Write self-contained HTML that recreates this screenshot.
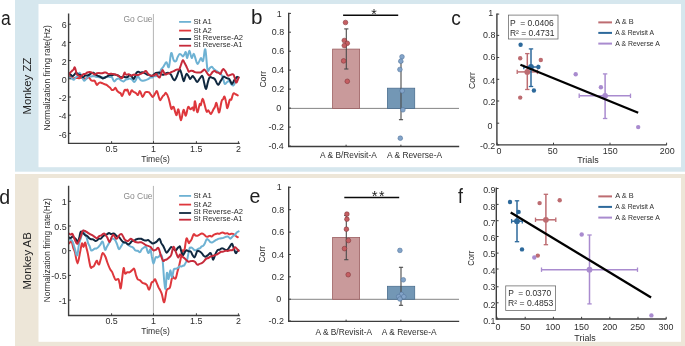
<!DOCTYPE html>
<html><head><meta charset="utf-8"><style>
html,body{margin:0;padding:0;background:#fff;overflow:hidden;}
svg{display:block;will-change:transform;}
text{font-family:"Liberation Sans",sans-serif;}
</style></head><body>
<svg width="685" height="346" viewBox="0 0 685 346">
<rect x="0" y="0" width="685" height="346" fill="#fff"/>
<rect x="15" y="0" width="670" height="171.7" fill="#d6e7ee"/>
<rect x="38.5" y="4" width="642.5" height="163.2" fill="#fff"/>
<rect x="15" y="174" width="670" height="172" fill="#ede6d8"/>
<rect x="38.5" y="178" width="642.5" height="163.8" fill="#fff"/>
<text x="1.1" y="24.6" font-size="20" textLength="9.72" lengthAdjust="spacingAndGlyphs" fill="#1e1e1e" >a</text>
<text x="251.06" y="24.4" font-size="20" textLength="11.49" lengthAdjust="spacingAndGlyphs" fill="#1e1e1e" >b</text>
<text x="451.24" y="24.7" font-size="20" textLength="9.54" lengthAdjust="spacingAndGlyphs" fill="#1e1e1e" >c</text>
<text x="-0.78" y="203.7" font-size="20" textLength="10.88" lengthAdjust="spacingAndGlyphs" fill="#1e1e1e" >d</text>
<text x="249.62" y="203.4" font-size="20" textLength="10.89" lengthAdjust="spacingAndGlyphs" fill="#1e1e1e" >e</text>
<text x="457.93" y="202.6" font-size="20" textLength="4.93" lengthAdjust="spacingAndGlyphs" fill="#1e1e1e" >f</text>
<text transform="translate(31.1,113.7) rotate(-90)" x="-0.91" y="0" font-size="11.4" textLength="56.97" lengthAdjust="spacingAndGlyphs" fill="#222">Monkey ZZ</text>
<text transform="translate(31.1,288.7) rotate(-90)" x="-0.91" y="0" font-size="11.4" textLength="57.31" lengthAdjust="spacingAndGlyphs" fill="#222">Monkey AB</text>
<line x1="153.4" y1="14" x2="153.4" y2="143.4" stroke="#b4b4b4" stroke-width="1"/>
<text x="123.38" y="22.4" font-size="8.6" textLength="29.22" lengthAdjust="spacingAndGlyphs" fill="#8a8a8a" >Go Cue</text>
<path d="M69.2,76.2 C69.5,76.4 70.3,77.1 70.9,77.5 C71.5,77.9 71.9,78.4 72.6,78.5 C73.3,78.6 74.1,78.2 74.9,78.1 C75.7,78.0 76.4,77.9 77.2,77.9 C78.0,77.9 78.4,78.3 79.1,78.2 C79.8,78.2 80.4,77.7 81.1,77.8 C81.8,77.8 82.3,78.3 83.0,78.5 C83.7,78.7 84.2,78.7 84.9,78.7 C85.6,78.6 86.2,78.5 86.9,78.3 C87.6,78.0 88.0,77.0 88.8,77.3 C89.6,77.6 90.4,79.6 91.1,80.2 C91.8,80.8 92.2,80.7 92.8,80.8 C93.5,80.9 93.9,80.1 94.6,80.8 C95.3,81.5 96.2,84.5 96.9,84.9 C97.6,85.3 98.0,83.5 98.7,83.1 C99.3,82.7 99.7,82.4 100.4,82.5 C101.1,82.6 101.9,83.1 102.7,83.4 C103.5,83.8 104.3,84.0 105.0,84.3 C105.7,84.6 106.1,84.7 106.8,85.1 C107.4,85.6 107.9,86.1 108.5,86.6 C109.1,87.1 109.6,87.2 110.2,87.8 C110.8,88.5 111.3,89.7 111.9,90.0 C112.5,90.3 113.0,90.1 113.7,89.7 C114.3,89.3 114.8,87.5 115.4,87.7 C116.0,87.9 116.5,90.1 117.2,90.9 C117.8,91.8 118.3,92.0 118.9,92.4 C119.5,92.8 120.0,92.7 120.6,93.3 C121.2,93.9 121.6,96.4 122.3,95.8 C123.0,95.2 123.9,90.9 124.6,90.0 C125.3,89.1 125.6,90.6 126.1,90.5 C126.6,90.5 127.0,89.0 127.6,89.8 C128.2,90.6 128.9,94.9 129.6,95.0 C130.3,95.1 130.9,91.0 131.5,90.4 C132.1,89.8 132.6,91.2 133.2,91.6 C133.7,91.9 134.2,92.1 134.8,92.4 C135.4,92.7 135.8,93.0 136.4,93.5 C137.0,94.0 137.4,95.4 138.0,95.0 C138.6,94.6 139.2,90.8 140.0,91.1 C140.8,91.4 141.7,96.7 142.6,96.9 C143.5,97.1 144.4,93.3 145.2,92.4 C146.0,91.5 146.4,92.0 147.1,92.0 C147.9,92.0 148.4,91.9 149.1,92.4 C149.8,92.9 150.3,94.2 151.1,95.0 C151.8,95.8 152.3,97.1 153.0,96.9 C153.7,96.7 154.2,95.0 154.9,93.9 C155.7,92.9 156.3,90.7 156.9,91.1 C157.5,91.5 157.9,94.3 158.5,96.0 C159.1,97.6 159.3,100.1 160.1,100.2 C160.9,100.3 161.9,97.2 162.7,96.3 C163.5,95.4 163.8,95.5 164.3,94.9 C164.9,94.3 165.2,92.4 166.0,93.0 C166.8,93.6 167.7,95.4 168.6,98.2 C169.5,101.0 170.5,107.0 171.2,108.6 C171.9,110.2 172.0,107.5 172.5,107.3 C173.0,107.1 173.1,105.9 173.8,107.3 C174.5,108.7 175.6,114.7 176.4,115.1 C177.2,115.5 177.6,108.4 178.4,109.3 C179.2,110.2 180.1,120.2 181.0,120.3 C181.9,120.4 182.6,110.7 183.5,109.9 C184.4,109.1 185.0,116.1 185.8,115.6 C186.6,115.1 187.3,108.1 188.1,107.0 C188.9,105.9 189.6,109.2 190.4,109.3 C191.2,109.4 192.1,107.3 192.7,107.5 C193.3,107.7 193.5,111.5 193.9,110.4 C194.3,109.3 194.4,100.9 195.0,101.2 C195.6,101.5 196.5,111.7 197.3,112.2 C198.1,112.7 199.1,105.4 199.7,104.1 C200.3,102.8 200.3,106.1 200.8,105.2 C201.3,104.3 201.9,99.2 202.5,98.9 C203.1,98.6 203.6,101.2 204.3,103.5 C205.0,105.8 205.9,110.4 206.6,111.6 C207.3,112.8 207.6,110.0 208.3,110.4 C209.0,110.8 209.9,113.6 210.6,113.9 C211.3,114.2 211.5,112.9 212.1,112.1 C212.6,111.3 213.0,110.2 213.5,109.3 C214.0,108.4 214.4,108.1 214.9,107.0 C215.5,105.8 215.9,102.6 216.4,102.9 C216.9,103.2 217.3,106.7 217.9,108.4 C218.4,110.1 218.6,113.5 219.3,112.2 C220.0,110.9 220.9,103.6 221.6,101.2 C222.3,98.8 222.5,99.9 223.1,99.1 C223.6,98.3 224.0,96.2 224.5,96.6 C225.0,97.0 225.4,99.5 225.9,101.5 C226.5,103.6 226.7,108.4 227.4,108.1 C228.1,107.8 229.0,101.5 229.7,100.0 C230.4,98.5 230.8,100.6 231.4,99.5 C232.0,98.4 232.5,94.7 233.2,93.7 C233.9,92.7 234.7,93.9 235.5,94.2 C236.3,94.5 237.4,95.2 237.8,95.4" fill="none" stroke="#de373c" stroke-width="2" stroke-linejoin="round" stroke-linecap="round"/>
<path d="M69.0,77.3 C69.4,77.5 70.5,78.0 71.4,78.4 C72.3,78.8 73.0,79.9 73.8,79.7 C74.6,79.5 75.0,78.2 75.7,77.5 C76.4,76.8 77.0,76.7 77.7,75.8 C78.4,74.9 78.8,72.5 79.6,72.7 C80.4,72.9 81.1,75.2 81.9,76.7 C82.7,78.1 83.4,80.5 84.2,80.8 C85.0,81.1 85.7,79.3 86.5,78.5 C87.3,77.7 88.0,76.6 88.8,76.2 C89.6,75.8 90.3,76.6 91.1,76.6 C91.9,76.5 92.6,76.0 93.4,76.0 C94.2,76.1 94.9,76.6 95.7,76.8 C96.5,77.0 97.2,76.9 98.0,77.0 C98.9,77.1 99.5,77.3 100.4,77.4 C101.2,77.4 101.9,77.2 102.7,77.3 C103.5,77.4 104.2,78.0 105.0,77.8 C105.8,77.7 106.5,76.7 107.3,76.6 C108.1,76.4 108.8,76.8 109.6,76.9 C110.4,77.1 111.1,76.5 111.9,77.3 C112.7,78.1 113.4,81.1 114.2,81.4 C115.0,81.7 115.7,79.7 116.6,79.2 C117.4,78.7 118.1,78.3 118.9,78.5 C119.7,78.7 120.4,80.0 121.2,80.5 C122.0,81.0 122.6,81.6 123.5,81.4 C124.4,81.2 125.2,79.9 126.0,79.5 C126.8,79.1 127.2,79.5 127.8,79.3 C128.4,79.2 128.9,78.5 129.6,78.5 C130.3,78.5 131.1,78.8 131.9,79.4 C132.7,80.1 133.5,81.9 134.2,82.0 C134.9,82.1 135.3,81.0 135.9,80.0 C136.6,78.9 137.0,76.3 137.7,76.2 C138.4,76.1 139.2,78.5 140.0,79.3 C140.8,80.2 141.5,80.6 142.3,80.8 C143.1,81.0 143.5,80.7 144.2,80.5 C144.9,80.3 145.5,80.1 146.2,79.9 C146.9,79.6 147.3,79.5 148.1,79.1 C148.9,78.7 149.6,77.9 150.4,77.6 C151.2,77.3 152.0,77.7 152.7,77.4 C153.4,77.1 153.8,76.1 154.4,75.9 C155.1,75.7 155.6,76.5 156.2,76.2 C156.8,75.9 157.3,75.1 157.9,74.5 C158.6,73.9 159.1,73.7 159.7,72.7 C160.3,71.7 160.8,70.1 161.4,69.1 C162.1,68.0 162.6,67.9 163.2,67.0 C163.8,66.1 164.3,64.9 164.9,64.1 C165.5,63.2 165.9,61.8 166.6,62.3 C167.3,62.8 168.1,68.7 168.9,67.0 C169.7,65.3 170.4,54.4 171.2,53.1 C172.0,51.8 172.8,58.5 173.6,60.0 C174.4,61.5 175.2,61.7 175.9,61.2 C176.6,60.7 177.0,58.5 177.6,57.2 C178.2,56.0 178.7,54.7 179.3,54.2 C179.9,53.7 180.5,54.1 181.1,54.6 C181.7,55.0 182.3,56.6 182.9,56.6 C183.5,56.6 183.8,55.1 184.4,54.3 C184.9,53.5 185.3,51.5 185.8,52.2 C186.3,52.9 186.6,58.3 187.2,58.0 C187.8,57.7 188.6,50.8 189.4,50.8 C190.2,50.8 190.8,57.5 191.6,58.0 C192.4,58.5 193.0,53.6 193.7,53.7 C194.4,53.8 194.9,56.8 195.5,58.6 C196.1,60.5 196.6,63.3 197.3,63.8 C198.0,64.3 198.5,62.6 199.2,61.5 C199.8,60.5 200.3,58.1 201.0,58.0 C201.7,57.9 202.3,62.5 203.1,60.9 C203.9,59.3 204.5,47.7 205.3,49.3 C206.1,50.9 206.7,66.2 207.5,69.6 C208.3,73.0 208.9,68.7 209.7,68.2 C210.4,67.7 211.1,66.6 211.8,66.7 C212.5,66.8 213.0,68.1 213.6,68.8 C214.2,69.4 214.8,69.8 215.4,70.3 C216.0,70.8 216.6,71.0 217.2,71.4 C217.8,71.8 218.4,72.0 219.0,72.5 C219.6,73.0 219.9,73.7 220.4,74.2 C221.0,74.8 221.4,74.4 221.9,75.4 C222.4,76.4 222.8,78.1 223.4,79.6 C223.9,81.2 224.1,83.5 224.8,84.0 C225.5,84.5 226.2,82.7 227.0,82.2 C227.8,81.6 228.4,80.7 229.2,81.1 C230.0,81.5 230.6,83.4 231.3,84.2 C232.1,85.0 232.8,85.9 233.5,85.5 C234.2,85.1 234.7,83.6 235.3,82.0 C235.9,80.5 236.8,77.7 237.1,76.8" fill="none" stroke="#6eb2d3" stroke-width="2" stroke-linejoin="round" stroke-linecap="round"/>
<path d="M69.0,73.3 C69.3,73.6 70.2,74.2 70.8,74.7 C71.4,75.2 72.0,76.2 72.6,76.2 C73.2,76.2 73.7,75.4 74.3,74.7 C75.0,74.1 75.4,72.7 76.1,72.7 C76.8,72.7 77.6,74.1 78.4,74.5 C79.2,75.0 79.9,74.6 80.7,75.1 C81.5,75.6 82.2,77.2 83.0,77.3 C83.8,77.4 84.2,76.0 84.9,75.7 C85.6,75.3 86.2,75.7 86.9,75.5 C87.6,75.4 88.0,75.4 88.8,75.0 C89.6,74.6 90.3,73.9 91.1,73.4 C91.9,73.0 92.6,72.5 93.4,72.7 C94.2,72.9 94.9,74.1 95.7,74.6 C96.6,75.2 97.2,75.4 98.1,75.8 C98.9,76.2 99.6,76.3 100.4,76.8 C101.2,77.3 101.9,78.4 102.7,78.5 C103.5,78.6 104.2,77.9 105.0,77.5 C105.8,77.1 106.5,76.7 107.3,76.3 C108.1,75.8 108.8,75.2 109.6,75.0 C110.4,74.8 111.1,75.4 111.9,75.3 C112.8,75.2 113.4,74.4 114.3,74.4 C115.1,74.3 115.8,74.7 116.6,75.0 C117.4,75.3 118.1,75.6 118.9,76.0 C119.7,76.5 120.4,77.2 121.2,77.3 C122.0,77.4 122.7,76.7 123.5,76.7 C124.3,76.7 125.0,77.3 125.8,77.3 C126.6,77.3 127.0,77.3 127.7,76.9 C128.4,76.5 128.9,75.2 129.6,75.1 C130.3,75.0 130.9,75.6 131.6,76.3 C132.4,77.0 133.1,79.1 133.7,79.1 C134.3,79.1 134.6,77.6 135.1,76.5 C135.7,75.3 136.0,73.5 136.6,72.7 C137.2,71.9 137.8,71.8 138.5,71.8 C139.2,71.8 139.7,72.6 140.4,72.7 C141.1,72.8 141.5,72.1 142.3,72.2 C143.1,72.3 143.8,72.6 144.7,73.1 C145.5,73.5 146.2,74.2 147.0,74.5 C147.8,74.8 148.2,74.5 148.9,74.7 C149.6,74.9 150.1,75.7 150.8,75.8 C151.5,76.0 151.9,76.1 152.7,75.6 C153.5,75.1 154.2,73.8 155.1,73.3 C155.9,72.8 156.6,72.8 157.4,72.7 C158.2,72.6 158.9,72.5 159.7,72.8 C160.5,73.1 161.2,74.2 162.0,74.5 C162.8,74.8 163.2,74.9 163.9,74.6 C164.6,74.4 165.2,73.7 165.9,73.3 C166.6,73.0 167.1,72.7 167.8,72.7 C168.5,72.7 168.9,72.7 169.5,73.2 C170.1,73.6 170.6,74.1 171.2,75.1 C171.8,76.1 172.3,77.6 172.9,78.6 C173.6,79.5 174.1,80.5 174.7,80.3 C175.3,80.1 175.8,78.7 176.4,77.3 C177.1,75.9 177.6,74.1 178.2,72.7 C178.8,71.3 179.4,69.2 180.0,69.6 C180.6,70.0 181.2,72.6 181.8,74.7 C182.4,76.7 183.0,80.6 183.6,81.1 C184.2,81.6 184.5,78.7 185.1,77.4 C185.6,76.1 185.9,74.2 186.5,73.9 C187.1,73.6 187.7,74.9 188.3,75.8 C188.9,76.7 189.5,78.7 190.1,79.0 C190.7,79.3 191.0,77.7 191.6,77.2 C192.1,76.7 192.4,75.7 193.0,76.1 C193.6,76.5 194.4,78.2 195.2,79.2 C195.9,80.3 196.5,82.0 197.3,81.9 C198.1,81.8 198.9,79.4 199.9,78.4 C200.8,77.4 201.6,75.3 202.4,76.1 C203.2,76.9 203.6,80.6 204.2,83.0 C204.8,85.3 205.4,89.2 206.0,89.1 C206.6,89.0 207.2,84.6 207.8,82.5 C208.4,80.4 208.8,78.4 209.6,77.5 C210.4,76.6 211.2,77.4 212.1,77.7 C213.1,77.9 213.9,78.1 214.7,79.0 C215.5,79.9 215.9,81.4 216.5,82.5 C217.1,83.5 217.5,85.1 218.3,84.8 C219.1,84.5 219.9,82.1 220.9,80.6 C221.8,79.2 222.6,77.4 223.4,76.8 C224.2,76.2 224.6,77.1 225.3,77.4 C226.0,77.7 226.6,78.1 227.3,78.4 C228.0,78.7 228.6,78.5 229.2,79.0 C229.8,79.5 230.1,80.6 230.6,81.5 C231.1,82.4 231.4,84.1 232.0,84.0 C232.6,83.9 233.2,82.0 233.8,80.9 C234.5,79.9 235.1,79.0 235.7,78.3 C236.3,77.6 236.6,77.2 237.1,77.1 C237.7,76.9 238.3,77.4 238.6,77.5" fill="none" stroke="#10283f" stroke-width="2" stroke-linejoin="round" stroke-linecap="round"/>
<path d="M69.0,74.5 C69.3,74.1 70.0,72.9 70.5,72.3 C71.0,71.7 71.5,71.5 72.0,71.0 C72.5,70.5 72.9,70.2 73.5,69.6 C74.0,69.0 74.3,66.7 74.9,67.5 C75.5,68.3 76.1,72.5 76.7,73.9 C77.3,75.3 77.6,75.0 78.2,75.4 C78.7,75.8 79.0,76.1 79.6,76.2 C80.2,76.3 80.8,76.4 81.5,76.1 C82.2,75.7 82.7,74.5 83.4,74.1 C84.1,73.7 84.6,74.2 85.3,73.9 C86.0,73.6 86.6,72.8 87.3,72.5 C88.1,72.2 88.6,72.1 89.4,72.1 C90.2,72.1 91.1,72.2 92.0,72.7 C92.9,73.1 93.7,74.4 94.6,74.5 C95.5,74.6 96.0,73.5 96.8,73.3 C97.6,73.0 98.2,73.0 99.0,73.0 C99.8,73.0 100.5,73.3 101.4,73.3 C102.3,73.2 103.0,72.9 103.8,72.7 C104.6,72.5 105.0,72.3 105.7,72.4 C106.4,72.6 107.0,73.3 107.7,73.6 C108.4,73.8 108.8,73.9 109.6,73.9 C110.4,73.9 111.1,73.7 111.9,73.8 C112.8,73.8 113.4,74.0 114.3,74.3 C115.1,74.5 115.8,74.7 116.6,75.0 C117.4,75.3 117.8,75.4 118.5,75.8 C119.2,76.3 119.7,77.2 120.4,77.5 C121.1,77.9 121.5,78.8 122.3,77.9 C123.1,77.0 124.1,73.4 124.6,72.7 C125.1,72.0 124.6,73.5 125.0,73.9 C125.4,74.3 126.2,74.6 126.9,74.7 C127.6,74.7 128.2,74.0 128.9,74.2 C129.6,74.3 130.1,75.4 130.8,75.6 C131.5,75.8 132.0,75.2 132.7,75.0 C133.4,74.9 134.0,74.6 134.7,74.6 C135.4,74.6 135.8,75.1 136.6,75.1 C137.4,75.1 138.1,75.0 138.9,74.7 C139.7,74.5 140.4,74.0 141.2,73.6 C142.0,73.2 142.7,73.0 143.5,72.6 C144.3,72.1 145.0,70.8 145.8,71.0 C146.6,71.2 147.3,73.1 148.1,73.9 C148.9,74.7 149.6,75.3 150.4,75.6 C151.2,75.9 151.6,75.5 152.3,75.5 C153.0,75.4 153.6,75.6 154.3,75.3 C155.0,75.0 155.5,73.7 156.2,73.9 C156.9,74.1 157.3,75.5 157.9,76.2 C158.6,76.8 159.1,77.9 159.7,77.4 C160.3,76.9 160.6,74.6 161.1,73.2 C161.7,71.9 162.1,70.0 162.6,69.9 C163.1,69.8 163.5,72.0 164.1,72.8 C164.6,73.7 164.9,74.3 165.5,74.5 C166.1,74.7 166.7,73.9 167.4,73.7 C168.1,73.5 168.6,73.7 169.3,73.4 C170.0,73.2 170.4,72.6 171.2,72.2 C172.0,71.8 172.7,71.6 173.6,71.2 C174.4,70.8 175.2,70.2 175.9,69.9 C176.6,69.6 177.0,69.6 177.6,69.5 C178.2,69.4 178.7,70.2 179.3,69.3 C179.9,68.4 180.5,66.1 181.1,64.5 C181.7,62.9 182.3,60.5 182.9,60.2 C183.5,59.9 183.8,61.7 184.4,62.6 C184.9,63.5 185.3,64.2 185.8,65.2 C186.3,66.2 186.7,66.9 187.2,68.1 C187.8,69.3 188.1,71.2 188.7,71.7 C189.3,72.2 190.1,70.8 190.8,70.7 C191.6,70.5 192.3,70.7 193.0,71.0 C193.7,71.3 194.2,71.8 194.9,72.1 C195.6,72.4 196.2,72.5 196.9,72.5 C197.6,72.6 198.1,72.5 198.8,72.5 C199.5,72.5 200.0,72.7 200.7,72.4 C201.4,72.1 202.0,71.4 202.7,70.9 C203.4,70.4 203.9,69.3 204.6,69.6 C205.3,69.9 206.0,71.6 206.8,72.6 C207.5,73.6 208.2,75.1 208.9,75.4 C209.6,75.7 210.1,75.0 210.8,74.4 C211.5,73.7 212.1,72.4 212.8,71.8 C213.5,71.2 214.0,70.9 214.7,71.0 C215.4,71.1 215.9,72.0 216.6,72.3 C217.3,72.6 217.9,72.5 218.6,72.8 C219.3,73.1 219.9,74.3 220.5,73.9 C221.1,73.5 221.4,71.7 221.9,70.8 C222.5,69.9 222.8,68.8 223.4,68.9 C224.0,69.0 224.8,70.4 225.6,71.6 C226.3,72.8 227.0,74.8 227.7,75.4 C228.4,76.0 228.9,75.4 229.6,75.2 C230.3,75.0 230.9,74.5 231.6,74.4 C232.3,74.3 232.9,73.9 233.5,74.6 C234.1,75.3 234.4,77.1 234.9,78.5 C235.5,80.0 235.7,82.8 236.4,82.6 C237.1,82.4 238.2,78.4 238.6,77.5" fill="none" stroke="#c62a3a" stroke-width="2" stroke-linejoin="round" stroke-linecap="round"/>
<path d="M68.6,13.6 V143.4 H239.8" fill="none" stroke="#3d3d3d" stroke-width="1.4"/>
<line x1="68.6" y1="24.2" x2="71.0" y2="24.2" stroke="#3d3d3d" stroke-width="1"/>
<text x="61.72" y="28.3" font-size="8.9" textLength="4.95" lengthAdjust="spacingAndGlyphs" fill="#2e2e2e" >6</text>
<line x1="68.6" y1="42.4" x2="71.0" y2="42.4" stroke="#3d3d3d" stroke-width="1"/>
<text x="61.63" y="46.5" font-size="8.9" textLength="4.95" lengthAdjust="spacingAndGlyphs" fill="#2e2e2e" >4</text>
<line x1="68.6" y1="60.6" x2="71.0" y2="60.6" stroke="#3d3d3d" stroke-width="1"/>
<text x="61.81" y="64.7" font-size="8.9" textLength="4.95" lengthAdjust="spacingAndGlyphs" fill="#2e2e2e" >2</text>
<line x1="68.6" y1="78.8" x2="71.0" y2="78.8" stroke="#3d3d3d" stroke-width="1"/>
<text x="61.67" y="82.9" font-size="8.9" textLength="4.95" lengthAdjust="spacingAndGlyphs" fill="#2e2e2e" >0</text>
<line x1="68.6" y1="97.0" x2="71.0" y2="97.0" stroke="#3d3d3d" stroke-width="1"/>
<text x="58.82" y="101.1" font-size="8.9" textLength="7.91" lengthAdjust="spacingAndGlyphs" fill="#2e2e2e" >-2</text>
<line x1="68.6" y1="115.2" x2="71.0" y2="115.2" stroke="#3d3d3d" stroke-width="1"/>
<text x="58.65" y="119.3" font-size="8.9" textLength="7.91" lengthAdjust="spacingAndGlyphs" fill="#2e2e2e" >-4</text>
<line x1="68.6" y1="133.4" x2="71.0" y2="133.4" stroke="#3d3d3d" stroke-width="1"/>
<text x="58.73" y="137.5" font-size="8.9" textLength="7.91" lengthAdjust="spacingAndGlyphs" fill="#2e2e2e" >-6</text>
<line x1="111.6" y1="143.4" x2="111.6" y2="141.20000000000002" stroke="#3d3d3d" stroke-width="1"/>
<text x="105.41" y="152.2" font-size="8.9" textLength="12.37" lengthAdjust="spacingAndGlyphs" fill="#2e2e2e" >0.5</text>
<line x1="153.5" y1="143.4" x2="153.5" y2="141.20000000000002" stroke="#3d3d3d" stroke-width="1"/>
<text x="150.9" y="152.2" font-size="8.9" textLength="4.95" lengthAdjust="spacingAndGlyphs" fill="#2e2e2e" >1</text>
<line x1="196.4" y1="143.4" x2="196.4" y2="141.20000000000002" stroke="#3d3d3d" stroke-width="1"/>
<text x="190.06" y="152.2" font-size="8.9" textLength="12.37" lengthAdjust="spacingAndGlyphs" fill="#2e2e2e" >1.5</text>
<line x1="238.4" y1="143.4" x2="238.4" y2="141.20000000000002" stroke="#3d3d3d" stroke-width="1"/>
<text x="235.93" y="152.2" font-size="8.9" textLength="4.95" lengthAdjust="spacingAndGlyphs" fill="#2e2e2e" >2</text>
<text x="141.23" y="162.3" font-size="8.6" textLength="28.7" lengthAdjust="spacingAndGlyphs" fill="#2e2e2e" >Time(s)</text>
<text transform="translate(50.3,129.9) rotate(-90)" x="-0.68" y="0" font-size="8.4" textLength="105.41" lengthAdjust="spacingAndGlyphs" fill="#2e2e2e">Normalization firing rate(Hz)</text>
<line x1="179.1" y1="21.9" x2="191.1" y2="21.9" stroke="#6eb2d3" stroke-width="1.8"/>
<text x="193.56" y="23.9" font-size="7.0" textLength="18.19" lengthAdjust="spacingAndGlyphs" fill="#2e2e2e" >St A1</text>
<line x1="179.1" y1="30.6" x2="191.1" y2="30.6" stroke="#de373c" stroke-width="1.8"/>
<text x="193.56" y="32.6" font-size="7.0" textLength="18.23" lengthAdjust="spacingAndGlyphs" fill="#2e2e2e" >St A2</text>
<line x1="179.1" y1="39.0" x2="191.1" y2="39.0" stroke="#10283f" stroke-width="1.8"/>
<text x="193.56" y="40" font-size="7.0" textLength="49.44" lengthAdjust="spacingAndGlyphs" fill="#2e2e2e" >St Reverse-A2</text>
<line x1="179.1" y1="45.7" x2="191.1" y2="45.7" stroke="#c62a3a" stroke-width="1.8"/>
<text x="193.56" y="47.4" font-size="7.0" textLength="48.8" lengthAdjust="spacingAndGlyphs" fill="#2e2e2e" >St Reverse-A1</text>
<line x1="288.7" y1="108.4" x2="459" y2="108.4" stroke="#777" stroke-width="0.9"/>
<rect x="332.6" y="49.1" width="27" height="59.300000000000004" fill="#c99a9b" stroke="#9c6062" stroke-width="0.8"/>
<rect x="387.4" y="88.2" width="27.3" height="20.200000000000003" fill="#7397b5" stroke="#4c6f8f" stroke-width="0.8"/>
<line x1="346.3" y1="28.9" x2="346.3" y2="69.0" stroke="#4a4a4a" stroke-width="1.1"/>
<line x1="344.2" y1="28.9" x2="348.40000000000003" y2="28.9" stroke="#4a4a4a" stroke-width="1.1"/>
<line x1="344.2" y1="69.0" x2="348.40000000000003" y2="69.0" stroke="#4a4a4a" stroke-width="1.1"/>
<line x1="401.0" y1="62.0" x2="401.0" y2="119.7" stroke="#4a4a4a" stroke-width="1.1"/>
<line x1="398.9" y1="62.0" x2="403.1" y2="62.0" stroke="#4a4a4a" stroke-width="1.1"/>
<line x1="398.9" y1="119.7" x2="403.1" y2="119.7" stroke="#4a4a4a" stroke-width="1.1"/>
<circle cx="345.5" cy="22.5" r="2.35" fill="#c45e62" stroke="#7e3437" stroke-width="0.55"/>
<circle cx="344.3" cy="40.5" r="2.35" fill="#c45e62" stroke="#7e3437" stroke-width="0.55"/>
<circle cx="347.3" cy="43.3" r="2.35" fill="#c45e62" stroke="#7e3437" stroke-width="0.55"/>
<circle cx="344.3" cy="45.6" r="2.35" fill="#c45e62" stroke="#7e3437" stroke-width="0.55"/>
<circle cx="343.6" cy="60.9" r="2.35" fill="#c45e62" stroke="#7e3437" stroke-width="0.55"/>
<circle cx="347.3" cy="81.3" r="2.35" fill="#c45e62" stroke="#7e3437" stroke-width="0.55"/>
<circle cx="402" cy="56.8" r="2.35" fill="#83a4c9" stroke="#52739a" stroke-width="0.55"/>
<circle cx="400.8" cy="61.2" r="2.35" fill="#83a4c9" stroke="#52739a" stroke-width="0.55"/>
<circle cx="399.9" cy="69.5" r="2.35" fill="#83a4c9" stroke="#52739a" stroke-width="0.55"/>
<circle cx="402.2" cy="90.8" r="2.35" fill="#83a4c9" stroke="#52739a" stroke-width="0.55"/>
<circle cx="402.9" cy="109.8" r="2.35" fill="#83a4c9" stroke="#52739a" stroke-width="0.55"/>
<circle cx="400.3" cy="138.2" r="2.35" fill="#83a4c9" stroke="#52739a" stroke-width="0.55"/>
<path d="M288.7,12.7 V146.5 H459.2" fill="none" stroke="#3d3d3d" stroke-width="1.4"/>
<line x1="288.7" y1="13.4" x2="291" y2="13.4" stroke="#3d3d3d" stroke-width="1"/>
<text x="276.66" y="16.5" font-size="8.9" textLength="4.95" lengthAdjust="spacingAndGlyphs" fill="#2e2e2e" >1</text>
<line x1="288.7" y1="32.2" x2="291" y2="32.2" stroke="#3d3d3d" stroke-width="1"/>
<text x="271.79" y="35.3" font-size="8.9" textLength="12.37" lengthAdjust="spacingAndGlyphs" fill="#2e2e2e" >0.8</text>
<line x1="288.7" y1="51.2" x2="291" y2="51.2" stroke="#3d3d3d" stroke-width="1"/>
<text x="271.79" y="54.3" font-size="8.9" textLength="12.37" lengthAdjust="spacingAndGlyphs" fill="#2e2e2e" >0.6</text>
<line x1="288.7" y1="70.1" x2="291" y2="70.1" stroke="#3d3d3d" stroke-width="1"/>
<text x="271.7" y="73.2" font-size="8.9" textLength="12.37" lengthAdjust="spacingAndGlyphs" fill="#2e2e2e" >0.4</text>
<line x1="288.7" y1="89.1" x2="291" y2="89.1" stroke="#3d3d3d" stroke-width="1"/>
<text x="271.87" y="92.2" font-size="8.9" textLength="12.37" lengthAdjust="spacingAndGlyphs" fill="#2e2e2e" >0.2</text>
<line x1="288.7" y1="108.1" x2="291" y2="108.1" stroke="#3d3d3d" stroke-width="1"/>
<text x="276.37" y="111.2" font-size="8.9" textLength="4.95" lengthAdjust="spacingAndGlyphs" fill="#2e2e2e" >0</text>
<line x1="288.7" y1="127.1" x2="291" y2="127.1" stroke="#3d3d3d" stroke-width="1"/>
<text x="268.64" y="130.2" font-size="8.9" textLength="15.34" lengthAdjust="spacingAndGlyphs" fill="#2e2e2e" >-0.2</text>
<line x1="288.7" y1="146.1" x2="291" y2="146.1" stroke="#3d3d3d" stroke-width="1"/>
<text x="268.46" y="149.2" font-size="8.9" textLength="15.34" lengthAdjust="spacingAndGlyphs" fill="#2e2e2e" >-0.4</text>
<line x1="346.1" y1="146.5" x2="346.1" y2="144.7" stroke="#3d3d3d" stroke-width="1"/>
<line x1="400.9" y1="146.5" x2="400.9" y2="144.7" stroke="#3d3d3d" stroke-width="1"/>
<text x="320.1" y="157.8" font-size="8.8" textLength="56.7" lengthAdjust="spacingAndGlyphs" fill="#2e2e2e" >A &amp; B/Revisit-A</text>
<text x="387" y="157.8" font-size="8.8" textLength="55.03" lengthAdjust="spacingAndGlyphs" fill="#2e2e2e" >A &amp; Reverse-A</text>
<text transform="translate(265.6,87.2) rotate(-90)" x="-0.43" y="0" font-size="8.4" textLength="16.8" lengthAdjust="spacingAndGlyphs" fill="#2e2e2e">Corr</text>
<line x1="343.1" y1="15.2" x2="398.2" y2="15.2" stroke="#0a0a0a" stroke-width="1.6"/>
<text x="371.29" y="18.9" font-size="14" textLength="5.51" lengthAdjust="spacingAndGlyphs" fill="#1a1a1a" >*</text>
<path d="M496.9,13.4 V144.9 H666.8" fill="none" stroke="#3d3d3d" stroke-width="1.4"/>
<line x1="496.9" y1="14.1" x2="499.2" y2="14.1" stroke="#3d3d3d" stroke-width="1"/>
<text x="488.26" y="15.8" font-size="8.9" textLength="4.95" lengthAdjust="spacingAndGlyphs" fill="#2e2e2e" >1</text>
<line x1="496.9" y1="35.4" x2="499.2" y2="35.4" stroke="#3d3d3d" stroke-width="1"/>
<text x="482.99" y="38.4" font-size="8.9" textLength="12.37" lengthAdjust="spacingAndGlyphs" fill="#2e2e2e" >0.8</text>
<line x1="496.9" y1="57.5" x2="499.2" y2="57.5" stroke="#3d3d3d" stroke-width="1"/>
<text x="482.99" y="60.1" font-size="8.9" textLength="12.37" lengthAdjust="spacingAndGlyphs" fill="#2e2e2e" >0.6</text>
<line x1="496.9" y1="79.3" x2="499.2" y2="79.3" stroke="#3d3d3d" stroke-width="1"/>
<text x="482.9" y="83.6" font-size="8.9" textLength="12.37" lengthAdjust="spacingAndGlyphs" fill="#2e2e2e" >0.4</text>
<line x1="496.9" y1="101.0" x2="499.2" y2="101.0" stroke="#3d3d3d" stroke-width="1"/>
<text x="483.07" y="105.3" font-size="8.9" textLength="12.37" lengthAdjust="spacingAndGlyphs" fill="#2e2e2e" >0.2</text>
<line x1="496.9" y1="123.2" x2="499.2" y2="123.2" stroke="#3d3d3d" stroke-width="1"/>
<text x="487.57" y="128.5" font-size="8.9" textLength="4.95" lengthAdjust="spacingAndGlyphs" fill="#2e2e2e" >0</text>
<line x1="496.9" y1="144.9" x2="499.2" y2="144.9" stroke="#3d3d3d" stroke-width="1"/>
<text x="479.94" y="148.8" font-size="8.9" textLength="15.34" lengthAdjust="spacingAndGlyphs" fill="#2e2e2e" >-0.2</text>
<line x1="497.1" y1="144.9" x2="497.1" y2="142.70000000000002" stroke="#3d3d3d" stroke-width="1"/>
<text x="496.51" y="153.8" font-size="8.9" textLength="4.95" lengthAdjust="spacingAndGlyphs" fill="#2e2e2e" >0</text>
<line x1="553.5" y1="144.9" x2="553.5" y2="142.70000000000002" stroke="#3d3d3d" stroke-width="1"/>
<text x="547.74" y="153.8" font-size="8.9" textLength="9.9" lengthAdjust="spacingAndGlyphs" fill="#2e2e2e" >50</text>
<line x1="610.0" y1="144.9" x2="610.0" y2="142.70000000000002" stroke="#3d3d3d" stroke-width="1"/>
<text x="602.81" y="153.8" font-size="8.9" textLength="14.85" lengthAdjust="spacingAndGlyphs" fill="#2e2e2e" >150</text>
<line x1="666.6" y1="144.9" x2="666.6" y2="142.70000000000002" stroke="#3d3d3d" stroke-width="1"/>
<text x="659.82" y="153.8" font-size="8.9" textLength="14.85" lengthAdjust="spacingAndGlyphs" fill="#2e2e2e" >200</text>
<text x="577.22" y="162.6" font-size="8.5" textLength="21.51" lengthAdjust="spacingAndGlyphs" fill="#2e2e2e" >Trials</text>
<text transform="translate(475.4,88.6) rotate(-90)" x="-0.43" y="0" font-size="8.4" textLength="16.8" lengthAdjust="spacingAndGlyphs" fill="#2e2e2e">Corr</text>
<rect x="508.4" y="15.1" width="49.60000000000002" height="23.9" fill="#fff" stroke="#6e6e6e" stroke-width="0.8"/>
<text x="509.92" y="25.7" font-size="8.6" textLength="43.72" lengthAdjust="spacingAndGlyphs" fill="#2e2e2e" xml:space="preserve">P  = 0.0406</text>
<text x="509.92" y="35.7" font-size="8.6" textLength="44.59" lengthAdjust="spacingAndGlyphs" fill="#2e2e2e" xml:space="preserve">R² = 0.4731</text>
<line x1="598.3" y1="22.4" x2="612" y2="22.4" stroke="#bd6c71" stroke-width="2"/>
<text x="615.3" y="24.4" font-size="6.6" textLength="18.48" lengthAdjust="spacingAndGlyphs" fill="#2e2e2e" >A &amp; B</text>
<line x1="598.3" y1="32.9" x2="612" y2="32.9" stroke="#2d699b" stroke-width="2"/>
<text x="615.3" y="34.9" font-size="6.6" textLength="38.7" lengthAdjust="spacingAndGlyphs" fill="#2e2e2e" >A &amp; Revisit A</text>
<line x1="598.3" y1="43.6" x2="612" y2="43.6" stroke="#a98bcf" stroke-width="2"/>
<text x="615.3" y="45.6" font-size="6.6" textLength="44.52" lengthAdjust="spacingAndGlyphs" fill="#2e2e2e" >A &amp; Reverse A</text>
<line x1="527.3" y1="53.6" x2="527.3" y2="89.5" stroke="#bd6c71" stroke-width="1.5"/>
<line x1="517.2" y1="71.9" x2="537.4" y2="71.9" stroke="#bd6c71" stroke-width="1.5"/>
<line x1="525.0999999999999" y1="53.6" x2="529.5" y2="53.6" stroke="#bd6c71" stroke-width="1.3"/>
<line x1="525.0999999999999" y1="89.5" x2="529.5" y2="89.5" stroke="#bd6c71" stroke-width="1.3"/>
<line x1="517.2" y1="69.7" x2="517.2" y2="74.10000000000001" stroke="#bd6c71" stroke-width="1.3"/>
<line x1="537.4" y1="69.7" x2="537.4" y2="74.10000000000001" stroke="#bd6c71" stroke-width="1.3"/>
<circle cx="527.3" cy="71.9" r="2.9" fill="#bd6c71"/>
<line x1="531.0" y1="48.9" x2="531.0" y2="86.5" stroke="#2d699b" stroke-width="1.5"/>
<line x1="523.8" y1="67.0" x2="538.0" y2="67.0" stroke="#2d699b" stroke-width="1.5"/>
<line x1="528.8" y1="48.9" x2="533.2" y2="48.9" stroke="#2d699b" stroke-width="1.3"/>
<line x1="528.8" y1="86.5" x2="533.2" y2="86.5" stroke="#2d699b" stroke-width="1.3"/>
<line x1="523.8" y1="64.8" x2="523.8" y2="69.2" stroke="#2d699b" stroke-width="1.3"/>
<line x1="538.0" y1="64.8" x2="538.0" y2="69.2" stroke="#2d699b" stroke-width="1.3"/>
<circle cx="531.0" cy="67.0" r="2.9" fill="#2d699b"/>
<line x1="605.1" y1="73.9" x2="605.1" y2="118.5" stroke="#a98bcf" stroke-width="1.5"/>
<line x1="579.2" y1="95.8" x2="630.5" y2="95.8" stroke="#a98bcf" stroke-width="1.5"/>
<line x1="602.9" y1="73.9" x2="607.3000000000001" y2="73.9" stroke="#a98bcf" stroke-width="1.3"/>
<line x1="602.9" y1="118.5" x2="607.3000000000001" y2="118.5" stroke="#a98bcf" stroke-width="1.3"/>
<line x1="579.2" y1="93.6" x2="579.2" y2="98.0" stroke="#a98bcf" stroke-width="1.3"/>
<line x1="630.5" y1="93.6" x2="630.5" y2="98.0" stroke="#a98bcf" stroke-width="1.3"/>
<circle cx="605.1" cy="95.8" r="2.9" fill="#a98bcf"/>
<circle cx="520.2" cy="58.2" r="2.2" fill="#bd6c71"/>
<circle cx="540.8" cy="60.0" r="2.2" fill="#bd6c71"/>
<circle cx="520.2" cy="97.6" r="2.2" fill="#bd6c71"/>
<circle cx="520.6" cy="44.8" r="2.2" fill="#2d699b"/>
<circle cx="538.4" cy="67.0" r="2.2" fill="#2d699b"/>
<circle cx="533.9" cy="90.5" r="2.2" fill="#2d699b"/>
<circle cx="575.7" cy="74.3" r="2.2" fill="#a98bcf"/>
<circle cx="600.9" cy="87.3" r="2.2" fill="#a98bcf"/>
<circle cx="638.2" cy="127.1" r="2.2" fill="#a98bcf"/>
<line x1="520.4" y1="64.7" x2="638.2" y2="112.7" stroke="#000" stroke-width="2.3"/>
<line x1="153.4" y1="185.9" x2="153.4" y2="315.5" stroke="#b4b4b4" stroke-width="1"/>
<text x="123.38" y="198.6" font-size="8.6" textLength="29.22" lengthAdjust="spacingAndGlyphs" fill="#8a8a8a" >Go Cue</text>
<path d="M69.0,243.5 C69.5,243.2 70.7,241.0 71.5,241.7 C72.3,242.4 72.6,245.8 73.2,247.6 C73.8,249.5 74.1,249.3 74.9,252.1 C75.7,254.9 76.6,263.4 77.5,263.4 C78.4,263.4 79.3,255.7 80.1,252.1 C80.9,248.5 81.3,244.4 81.9,243.5 C82.5,242.6 83.0,247.1 83.6,246.9 C84.2,246.7 84.8,242.3 85.3,242.6 C85.8,242.9 86.1,246.6 86.6,248.6 C87.1,250.6 87.2,250.6 87.9,253.9 C88.6,257.2 89.7,264.6 90.5,266.9 C91.3,269.2 91.6,267.1 92.2,266.9 C92.9,266.8 93.2,267.1 94.0,266.0 C94.8,264.9 95.9,261.3 96.6,260.8 C97.3,260.3 97.4,262.6 97.9,263.3 C98.4,263.9 98.7,265.2 99.2,264.3 C99.7,263.4 100.3,260.3 101.0,258.2 C101.6,256.2 101.9,253.3 102.7,253.0 C103.5,252.7 104.5,255.0 105.3,256.5 C106.1,258.0 106.4,259.8 107.0,261.5 C107.6,263.2 108.1,264.5 108.7,266.0 C109.3,267.5 109.8,268.7 110.5,269.8 C111.1,270.9 111.6,270.9 112.2,272.1 C112.8,273.3 113.3,275.3 114.0,276.7 C114.6,278.1 114.9,279.5 115.7,279.9 C116.5,280.3 117.6,278.4 118.3,279.0 C119.0,279.6 119.1,281.9 119.6,283.5 C120.1,285.0 120.2,290.4 120.9,287.7 C121.6,285.0 122.8,271.2 123.5,268.6 C124.2,266.0 124.3,272.8 125.0,273.5 C125.7,274.2 126.5,272.5 127.3,272.3 C128.1,272.1 128.8,272.6 129.6,272.3 C130.4,272.0 131.1,271.0 131.9,270.4 C132.7,269.8 133.5,268.0 134.2,268.8 C134.9,269.6 135.3,273.0 135.9,274.9 C136.6,276.8 137.0,278.2 137.7,279.2 C138.4,280.2 139.2,279.6 140.0,280.2 C140.8,280.9 141.5,282.1 142.3,282.7 C143.1,283.3 143.8,283.1 144.6,283.5 C145.4,283.9 146.1,283.9 146.9,285.0 C147.7,286.1 148.4,290.0 149.2,289.6 C150.0,289.2 150.8,284.1 151.5,282.7 C152.2,281.3 152.6,282.4 153.2,281.8 C153.9,281.1 154.4,278.9 155.0,279.2 C155.6,279.5 156.1,281.7 156.8,283.2 C157.4,284.6 157.9,286.0 158.5,287.3 C159.1,288.6 159.6,289.0 160.2,290.2 C160.8,291.5 161.2,292.0 161.9,294.2 C162.6,296.4 163.4,302.9 164.2,302.3 C165.0,301.7 165.8,293.2 166.5,290.8 C167.2,288.4 167.6,289.4 168.2,288.7 C168.9,288.1 169.3,289.4 170.0,287.3 C170.7,285.2 171.6,278.5 172.3,276.9 C173.0,275.3 173.4,278.0 174.1,278.2 C174.7,278.5 175.2,279.3 175.8,278.1 C176.4,276.9 176.9,273.7 177.5,271.5 C178.1,269.2 178.6,267.9 179.2,265.4 C179.8,262.9 180.3,260.5 180.9,257.8 C181.6,255.1 182.1,251.6 182.7,250.4 C183.3,249.2 183.6,253.0 184.3,250.9 C185.0,248.8 185.7,240.0 186.5,238.6 C187.3,237.2 188.0,242.5 188.7,243.0 C189.4,243.5 189.6,242.0 190.1,241.4 C190.7,240.7 191.0,240.6 191.6,239.3 C192.2,238.0 193.0,235.0 193.7,234.3 C194.4,233.6 194.9,235.3 195.5,235.6 C196.1,235.8 196.6,235.9 197.3,235.7 C198.0,235.5 198.7,235.0 199.5,234.6 C200.3,234.3 200.9,233.7 201.7,233.6 C202.5,233.5 203.1,233.8 203.8,234.3 C204.6,234.8 205.3,236.1 206.0,236.5 C206.7,236.9 207.2,236.8 207.9,236.6 C208.6,236.5 209.2,235.7 209.9,235.7 C210.6,235.6 211.1,236.7 211.8,236.5 C212.5,236.3 213.0,235.3 213.7,234.8 C214.4,234.4 215.0,234.2 215.7,234.0 C216.4,233.8 216.9,233.7 217.6,233.6 C218.3,233.5 218.8,233.8 219.5,233.7 C220.2,233.5 220.8,232.8 221.5,232.7 C222.2,232.5 222.7,232.6 223.4,232.8 C224.1,233.0 224.6,233.6 225.3,233.6 C226.0,233.7 226.6,233.1 227.3,233.2 C228.0,233.3 228.5,234.2 229.2,234.3 C229.9,234.4 230.4,233.9 231.1,233.8 C231.8,233.8 232.3,233.7 233.0,233.9 C233.7,234.1 234.3,234.5 234.9,235.0 C235.5,235.5 235.8,236.1 236.4,236.5 C236.9,236.9 237.5,237.1 237.8,237.2" fill="none" stroke="#de373c" stroke-width="2" stroke-linejoin="round" stroke-linecap="round"/>
<path d="M69.0,239.3 C69.3,239.4 70.2,239.5 70.8,239.9 C71.4,240.3 71.9,240.1 72.6,241.7 C73.3,243.3 74.1,246.5 74.9,248.9 C75.7,251.4 76.5,256.4 77.2,255.5 C77.9,254.6 78.3,247.2 79.0,244.0 C79.7,240.8 80.3,240.0 81.0,237.6 C81.7,235.2 82.3,231.4 83.0,230.7 C83.7,230.0 84.1,232.7 84.8,233.8 C85.4,234.9 85.9,235.3 86.5,237.0 C87.1,238.7 87.6,241.7 88.2,243.4 C88.8,245.1 89.1,245.1 89.7,246.3 C90.2,247.6 90.5,249.6 91.1,250.3 C91.7,251.0 92.2,250.3 92.8,250.0 C93.5,249.7 94.0,248.9 94.6,248.6 C95.2,248.3 95.7,248.8 96.3,248.6 C97.0,248.3 97.4,248.1 98.1,247.4 C98.8,246.7 99.6,245.6 100.4,244.6 C101.2,243.5 101.9,240.8 102.7,241.7 C103.5,242.6 104.3,248.8 105.0,249.7 C105.7,250.6 106.1,247.9 106.8,246.9 C107.4,245.8 107.9,245.1 108.5,244.0 C109.1,242.9 109.6,241.9 110.2,240.9 C110.8,240.0 111.3,239.2 111.9,238.8 C112.5,238.4 113.0,238.4 113.7,238.8 C114.3,239.1 114.8,239.4 115.4,240.5 C116.0,241.6 116.5,243.1 117.2,244.6 C117.8,246.2 118.2,248.9 118.9,249.2 C119.6,249.5 120.4,247.3 121.2,246.2 C122.0,245.0 122.7,243.4 123.5,242.8 C124.3,242.2 124.9,242.6 125.8,242.9 C126.6,243.2 127.2,243.9 128.0,244.5 C128.8,245.1 129.2,245.8 129.9,246.2 C130.7,246.7 131.2,246.6 131.9,246.9 C132.6,247.2 133.0,247.5 133.7,248.2 C134.3,248.8 134.7,249.9 135.4,250.4 C136.1,250.9 136.9,250.5 137.7,250.8 C138.5,251.1 139.3,252.4 140.0,252.1 C140.7,251.8 141.1,249.9 141.8,249.1 C142.4,248.4 142.7,248.2 143.5,247.8 C144.3,247.4 145.3,246.4 146.0,247.0 C146.7,247.6 146.9,249.8 147.3,250.9 C147.8,252.0 148.2,253.3 148.7,253.0 C149.2,252.7 149.8,248.8 150.4,249.5 C151.0,250.2 151.4,254.4 151.9,256.9 C152.5,259.4 152.8,263.3 153.5,263.4 C154.2,263.5 154.9,258.3 155.6,257.3 C156.3,256.3 156.7,257.7 157.3,257.6 C157.9,257.4 158.4,257.0 159.0,256.5 C159.6,256.0 160.2,254.2 160.8,254.7 C161.4,255.1 161.9,254.2 162.5,259.0 C163.1,263.8 163.7,276.3 164.3,281.6 C164.9,286.9 165.1,290.0 165.6,288.5 C166.1,287.0 166.4,274.7 166.9,273.0 C167.4,271.3 168.0,279.5 168.6,279.0 C169.2,278.5 169.7,270.6 170.3,270.3 C170.9,270.0 171.4,277.4 172.0,277.3 C172.6,277.2 173.1,271.0 173.8,269.5 C174.5,268.0 175.2,269.1 175.9,268.8 C176.7,268.5 177.4,268.2 178.1,267.7 C178.8,267.2 179.2,266.5 179.8,266.3 C180.4,266.0 180.9,266.6 181.5,266.5 C182.1,266.4 182.4,265.8 182.9,265.6 C183.4,265.4 183.8,266.0 184.3,265.4 C184.8,264.8 185.2,263.5 185.8,262.5 C186.3,261.5 186.5,262.1 187.2,259.6 C187.9,257.1 188.7,250.8 189.4,248.7 C190.1,246.6 190.3,247.8 190.9,247.7 C191.4,247.5 191.7,247.6 192.3,248.0 C192.9,248.4 193.5,249.5 194.1,249.9 C194.7,250.3 195.2,250.4 195.9,250.2 C196.6,250.0 197.3,249.3 198.1,248.9 C198.8,248.5 199.6,248.5 200.2,248.0 C200.8,247.5 201.1,246.7 201.6,246.3 C202.2,246.0 202.5,246.5 203.1,245.9 C203.7,245.3 204.3,244.4 204.9,243.2 C205.5,242.0 206.0,239.9 206.7,239.3 C207.4,238.7 207.9,239.6 208.6,240.1 C209.2,240.6 209.7,241.8 210.4,242.2 C211.1,242.6 211.8,242.5 212.6,242.3 C213.3,242.0 213.9,241.3 214.7,240.8 C215.5,240.3 216.1,240.0 216.8,239.6 C217.6,239.2 218.2,238.8 219.0,238.6 C219.8,238.4 220.4,238.5 221.2,238.3 C222.0,238.2 222.6,238.2 223.4,237.9 C224.2,237.6 224.8,237.2 225.6,236.9 C226.3,236.7 227.1,236.4 227.7,236.5 C228.3,236.6 228.6,237.1 229.1,237.5 C229.7,237.9 230.0,238.8 230.6,238.6 C231.2,238.4 232.0,236.9 232.8,236.2 C233.5,235.6 234.2,235.7 234.9,235.0 C235.6,234.3 236.1,233.0 236.8,232.4 C237.4,231.7 238.3,231.6 238.6,231.4" fill="none" stroke="#6eb2d3" stroke-width="2" stroke-linejoin="round" stroke-linecap="round"/>
<path d="M69.0,237.6 C69.3,237.6 70.2,238.1 70.8,237.9 C71.4,237.7 72.0,236.5 72.6,236.5 C73.2,236.5 73.7,237.2 74.3,237.8 C75.0,238.3 75.4,238.6 76.1,239.4 C76.7,240.2 77.2,242.5 77.8,242.2 C78.4,241.9 78.7,239.8 79.2,237.9 C79.8,236.0 80.0,232.7 80.7,231.8 C81.4,230.9 82.2,232.4 83.0,233.0 C83.8,233.6 84.5,234.8 85.3,235.3 C86.1,235.8 86.5,235.4 87.2,236.0 C87.9,236.5 88.5,237.6 89.2,238.2 C89.9,238.8 90.4,239.1 91.1,239.3 C91.8,239.5 92.3,239.2 93.0,239.4 C93.7,239.7 94.3,240.6 95.0,240.8 C95.7,241.0 96.2,240.9 96.9,240.5 C97.6,240.1 98.1,239.0 98.8,238.7 C99.5,238.4 100.1,239.1 100.8,238.7 C101.5,238.3 102.0,237.2 102.7,236.5 C103.4,235.8 104.0,235.4 104.8,235.0 C105.6,234.6 106.1,234.7 106.9,234.3 C107.7,234.0 108.3,233.1 109.0,233.0 C109.7,232.9 110.1,233.8 110.7,234.0 C111.4,234.1 111.8,233.8 112.5,233.7 C113.1,233.7 113.5,233.2 114.2,233.6 C114.9,234.0 115.7,235.5 116.6,236.1 C117.4,236.7 118.1,236.3 118.9,237.0 C119.7,237.7 120.4,239.0 121.2,240.0 C122.0,240.9 122.7,241.7 123.5,242.2 C124.3,242.7 124.9,242.1 125.8,242.5 C126.6,243.0 127.2,244.3 128.0,244.5 C128.8,244.7 129.2,244.1 129.9,243.5 C130.7,242.9 131.1,241.7 131.9,241.2 C132.7,240.7 133.4,240.9 134.2,240.6 C135.0,240.2 135.7,239.6 136.5,239.3 C137.3,238.9 138.0,238.9 138.8,238.8 C139.6,238.7 140.3,238.6 141.2,238.8 C142.0,239.1 142.7,239.7 143.5,240.0 C144.3,240.3 145.0,240.6 145.8,240.6 C146.6,240.6 147.3,239.8 148.1,240.0 C148.9,240.2 149.6,241.3 150.4,241.9 C151.2,242.5 151.9,243.4 152.7,243.5 C153.5,243.6 154.2,243.2 155.0,242.7 C155.8,242.2 156.5,241.6 157.3,240.9 C158.1,240.2 158.9,238.4 159.6,238.8 C160.3,239.2 160.7,241.9 161.3,243.1 C162.0,244.4 162.5,244.7 163.1,245.8 C163.7,246.9 164.2,248.1 164.8,249.4 C165.4,250.6 165.8,252.6 166.5,252.7 C167.2,252.8 168.0,251.2 168.8,250.2 C169.7,249.1 170.4,247.1 171.2,246.9 C172.0,246.7 172.7,248.2 173.5,248.9 C174.3,249.5 175.1,250.5 175.8,250.4 C176.5,250.3 176.9,248.8 177.5,248.2 C178.1,247.6 178.8,247.2 179.2,246.9 C179.6,246.6 179.6,245.7 180.0,246.6 C180.4,247.5 180.9,250.2 181.4,251.8 C182.0,253.3 182.3,255.2 182.9,255.3 C183.5,255.4 184.1,253.3 184.7,252.4 C185.3,251.5 185.8,250.4 186.5,250.2 C187.2,250.0 187.9,251.2 188.7,251.4 C189.4,251.7 190.1,250.9 190.8,251.6 C191.5,252.3 192.0,254.3 192.7,255.3 C193.3,256.4 193.9,257.6 194.5,257.4 C195.1,257.2 195.4,255.6 195.9,254.4 C196.4,253.3 196.7,251.5 197.3,250.9 C197.9,250.3 198.7,251.0 199.5,251.4 C200.3,251.8 201.0,252.4 201.7,253.1 C202.4,253.8 202.9,254.8 203.5,255.5 C204.1,256.1 204.5,256.8 205.3,256.7 C206.1,256.6 206.9,255.8 207.9,255.2 C208.8,254.6 209.7,253.0 210.4,253.1 C211.1,253.2 211.3,254.6 211.9,255.8 C212.4,257.0 212.7,259.9 213.3,259.6 C213.9,259.3 214.7,255.8 215.4,254.1 C216.2,252.4 216.9,251.0 217.6,250.2 C218.3,249.4 218.8,250.1 219.5,249.8 C220.2,249.4 220.8,248.5 221.5,248.4 C222.2,248.2 222.7,248.4 223.4,248.7 C224.1,249.0 224.8,249.7 225.6,249.9 C226.3,250.0 226.9,250.1 227.7,249.5 C228.5,248.9 229.1,247.7 229.8,246.6 C230.6,245.6 231.3,243.4 232.0,243.7 C232.7,244.0 233.2,246.7 233.8,248.4 C234.5,250.1 235.1,252.5 235.7,253.1 C236.3,253.7 236.6,252.0 237.1,251.5 C237.7,251.0 238.3,250.4 238.6,250.2" fill="none" stroke="#10283f" stroke-width="2" stroke-linejoin="round" stroke-linecap="round"/>
<path d="M69.0,233.6 C69.3,233.8 70.2,234.5 70.8,234.6 C71.4,234.7 71.9,233.2 72.6,234.1 C73.3,235.0 74.1,238.1 74.9,239.9 C75.7,241.6 76.4,244.1 77.2,244.0 C78.0,243.9 78.9,240.7 79.6,239.3 C80.3,237.9 80.5,237.4 81.0,236.0 C81.6,234.5 81.9,232.1 82.5,231.2 C83.1,230.3 83.8,230.6 84.5,230.8 C85.2,230.9 85.7,231.3 86.5,231.8 C87.3,232.3 88.0,232.9 88.8,233.4 C89.6,233.9 90.3,234.3 91.1,234.7 C91.9,235.1 92.3,235.3 93.0,235.7 C93.7,236.2 94.3,236.6 95.0,237.1 C95.7,237.5 96.1,238.4 96.9,238.2 C97.7,238.0 98.4,236.6 99.2,236.1 C100.0,235.6 100.8,235.7 101.5,235.3 C102.2,234.9 102.4,234.2 103.0,233.9 C103.5,233.6 103.9,233.3 104.4,233.6 C104.9,233.9 105.3,234.8 105.8,235.5 C106.4,236.2 106.6,236.4 107.3,237.6 C108.0,238.8 108.9,242.1 109.6,242.2 C110.3,242.3 110.7,239.3 111.3,237.9 C112.0,236.6 112.5,234.9 113.1,234.7 C113.7,234.5 114.2,235.9 114.8,236.7 C115.5,237.4 115.9,239.0 116.6,238.8 C117.3,238.6 118.1,236.4 118.9,235.6 C119.7,234.7 120.5,234.0 121.2,234.1 C121.9,234.2 122.3,235.0 122.9,236.0 C123.5,236.9 124.0,238.5 124.6,239.3 C125.2,240.1 125.7,240.3 126.3,240.6 C126.9,240.9 127.4,241.2 128.0,241.1 C128.6,241.0 128.9,240.2 129.4,239.8 C129.9,239.4 130.2,238.8 130.8,238.8 C131.4,238.8 132.0,239.5 132.7,240.0 C133.4,240.5 133.9,241.1 134.6,241.6 C135.3,242.0 135.7,242.1 136.5,242.3 C137.3,242.5 138.0,242.4 138.8,242.4 C139.7,242.4 140.3,242.1 141.2,242.3 C142.0,242.5 142.7,243.0 143.5,243.5 C144.3,244.0 145.0,244.7 145.8,245.1 C146.6,245.6 147.3,245.6 148.1,245.9 C148.9,246.2 149.7,246.4 150.4,246.9 C151.1,247.4 151.5,248.3 152.1,248.9 C152.7,249.6 153.1,250.3 153.8,250.4 C154.5,250.5 155.3,249.9 156.2,249.5 C157.0,249.1 157.7,247.1 158.5,248.1 C159.3,249.1 160.0,253.0 160.8,255.3 C161.6,257.6 162.4,260.0 163.1,260.8 C163.8,261.6 164.2,260.2 164.8,260.0 C165.4,259.7 165.8,260.0 166.5,259.6 C167.2,259.2 168.0,258.6 168.8,257.8 C169.7,256.9 170.4,257.0 171.2,255.0 C172.0,253.0 172.7,247.5 173.5,246.9 C174.3,246.3 175.0,250.0 175.8,251.9 C176.6,253.7 177.3,256.8 178.1,257.3 C178.9,257.8 179.3,254.7 180.0,254.5 C180.7,254.3 181.4,255.8 182.2,256.4 C182.9,257.1 183.5,257.4 184.3,258.1 C185.1,258.8 185.7,259.6 186.5,260.2 C187.3,260.9 187.9,261.7 188.7,261.8 C189.5,261.9 190.1,261.2 190.8,261.1 C191.6,260.9 192.2,260.8 193.0,261.0 C193.8,261.2 194.4,261.4 195.2,262.1 C195.9,262.7 196.5,264.3 197.3,264.6 C198.1,264.9 198.7,264.1 199.5,263.9 C200.3,263.6 200.9,263.6 201.7,263.2 C202.5,262.8 203.1,262.2 203.8,261.4 C204.6,260.7 205.2,259.5 206.0,258.9 C206.8,258.3 207.4,258.4 208.2,258.0 C209.0,257.6 209.6,257.1 210.4,256.7 C211.2,256.3 211.8,256.2 212.6,255.9 C213.3,255.7 213.9,255.6 214.7,255.3 C215.5,255.0 216.1,254.9 216.8,254.5 C217.6,254.1 218.2,253.6 219.0,253.1 C219.8,252.6 220.4,252.0 221.2,251.8 C222.0,251.5 222.6,251.8 223.4,251.6 C224.2,251.4 224.8,250.8 225.6,250.7 C226.3,250.5 226.9,251.0 227.7,250.9 C228.5,250.8 229.1,250.4 229.8,250.2 C230.6,250.1 231.4,250.4 232.0,250.2 C232.6,250.0 232.9,249.8 233.4,249.3 C234.0,248.8 234.3,247.4 234.9,247.3 C235.5,247.2 236.1,247.9 236.8,248.6 C237.4,249.2 238.3,250.5 238.6,250.9" fill="none" stroke="#c62a3a" stroke-width="2" stroke-linejoin="round" stroke-linecap="round"/>
<path d="M68.6,185.8 V315.5 H239.8" fill="none" stroke="#3d3d3d" stroke-width="1.4"/>
<line x1="68.6" y1="201.3" x2="71.0" y2="201.3" stroke="#3d3d3d" stroke-width="1"/>
<text x="61.76" y="204.9" font-size="8.9" textLength="4.95" lengthAdjust="spacingAndGlyphs" fill="#2e2e2e" >1</text>
<line x1="68.6" y1="226.0" x2="71.0" y2="226.0" stroke="#3d3d3d" stroke-width="1"/>
<text x="54.28" y="229.6" font-size="8.9" textLength="12.37" lengthAdjust="spacingAndGlyphs" fill="#2e2e2e" >0.5</text>
<line x1="68.6" y1="250.7" x2="71.0" y2="250.7" stroke="#3d3d3d" stroke-width="1"/>
<text x="61.67" y="254.3" font-size="8.9" textLength="4.95" lengthAdjust="spacingAndGlyphs" fill="#2e2e2e" >0</text>
<line x1="68.6" y1="275.4" x2="71.0" y2="275.4" stroke="#3d3d3d" stroke-width="1"/>
<text x="51.35" y="279" font-size="8.9" textLength="15.34" lengthAdjust="spacingAndGlyphs" fill="#2e2e2e" >-0.5</text>
<line x1="68.6" y1="300.1" x2="71.0" y2="300.1" stroke="#3d3d3d" stroke-width="1"/>
<text x="58.78" y="303.7" font-size="8.9" textLength="7.91" lengthAdjust="spacingAndGlyphs" fill="#2e2e2e" >-1</text>
<line x1="111.6" y1="315.5" x2="111.6" y2="313.3" stroke="#3d3d3d" stroke-width="1"/>
<text x="105.41" y="324" font-size="8.9" textLength="12.37" lengthAdjust="spacingAndGlyphs" fill="#2e2e2e" >0.5</text>
<line x1="153.5" y1="315.5" x2="153.5" y2="313.3" stroke="#3d3d3d" stroke-width="1"/>
<text x="150.9" y="324" font-size="8.9" textLength="4.95" lengthAdjust="spacingAndGlyphs" fill="#2e2e2e" >1</text>
<line x1="196.4" y1="315.5" x2="196.4" y2="313.3" stroke="#3d3d3d" stroke-width="1"/>
<text x="190.06" y="324" font-size="8.9" textLength="12.37" lengthAdjust="spacingAndGlyphs" fill="#2e2e2e" >1.5</text>
<line x1="238.4" y1="315.5" x2="238.4" y2="313.3" stroke="#3d3d3d" stroke-width="1"/>
<text x="235.93" y="324" font-size="8.9" textLength="4.95" lengthAdjust="spacingAndGlyphs" fill="#2e2e2e" >2</text>
<text x="141.23" y="333.5" font-size="8.6" textLength="28.7" lengthAdjust="spacingAndGlyphs" fill="#2e2e2e" >Time(s)</text>
<text transform="translate(50,301.6) rotate(-90)" x="-0.67" y="0" font-size="8.4" textLength="104" lengthAdjust="spacingAndGlyphs" fill="#2e2e2e">Normalization firing rate(Hz)</text>
<line x1="179.1" y1="195.9" x2="191.1" y2="195.9" stroke="#6eb2d3" stroke-width="1.8"/>
<text x="193.56" y="197.9" font-size="7.0" textLength="18.19" lengthAdjust="spacingAndGlyphs" fill="#2e2e2e" >St A1</text>
<line x1="179.1" y1="204.6" x2="191.1" y2="204.6" stroke="#de373c" stroke-width="1.8"/>
<text x="193.56" y="206.6" font-size="7.0" textLength="18.23" lengthAdjust="spacingAndGlyphs" fill="#2e2e2e" >St A2</text>
<line x1="179.1" y1="213.0" x2="191.1" y2="213.0" stroke="#10283f" stroke-width="1.8"/>
<text x="193.56" y="214" font-size="7.0" textLength="49.44" lengthAdjust="spacingAndGlyphs" fill="#2e2e2e" >St Reverse-A2</text>
<line x1="179.1" y1="219.7" x2="191.1" y2="219.7" stroke="#c62a3a" stroke-width="1.8"/>
<text x="193.56" y="221.4" font-size="7.0" textLength="48.8" lengthAdjust="spacingAndGlyphs" fill="#2e2e2e" >St Reverse-A1</text>
<line x1="288.7" y1="299.3" x2="459" y2="299.3" stroke="#777" stroke-width="0.9"/>
<rect x="332.6" y="237.4" width="27" height="61.900000000000006" fill="#c99a9b" stroke="#9c6062" stroke-width="0.8"/>
<rect x="387.4" y="286.3" width="27.3" height="13.0" fill="#7397b5" stroke="#4c6f8f" stroke-width="0.8"/>
<line x1="346.3" y1="215.5" x2="346.3" y2="259.7" stroke="#4a4a4a" stroke-width="1.1"/>
<line x1="344.2" y1="215.5" x2="348.40000000000003" y2="215.5" stroke="#4a4a4a" stroke-width="1.1"/>
<line x1="344.2" y1="259.7" x2="348.40000000000003" y2="259.7" stroke="#4a4a4a" stroke-width="1.1"/>
<line x1="401.0" y1="267.3" x2="401.0" y2="305.3" stroke="#4a4a4a" stroke-width="1.1"/>
<line x1="398.9" y1="267.3" x2="403.1" y2="267.3" stroke="#4a4a4a" stroke-width="1.1"/>
<line x1="398.9" y1="305.3" x2="403.1" y2="305.3" stroke="#4a4a4a" stroke-width="1.1"/>
<circle cx="346.9" cy="214.1" r="2.35" fill="#c45e62" stroke="#7e3437" stroke-width="0.55"/>
<circle cx="346.9" cy="219.2" r="2.35" fill="#c45e62" stroke="#7e3437" stroke-width="0.55"/>
<circle cx="346.4" cy="229.2" r="2.35" fill="#c45e62" stroke="#7e3437" stroke-width="0.55"/>
<circle cx="348.4" cy="240.5" r="2.35" fill="#c45e62" stroke="#7e3437" stroke-width="0.55"/>
<circle cx="344.5" cy="248.6" r="2.35" fill="#c45e62" stroke="#7e3437" stroke-width="0.55"/>
<circle cx="348.2" cy="274.7" r="2.35" fill="#c45e62" stroke="#7e3437" stroke-width="0.55"/>
<circle cx="399.9" cy="250.4" r="2.35" fill="#83a4c9" stroke="#52739a" stroke-width="0.55"/>
<circle cx="403.3" cy="279.8" r="2.35" fill="#83a4c9" stroke="#52739a" stroke-width="0.55"/>
<circle cx="401.5" cy="294.4" r="2.35" fill="#83a4c9" stroke="#52739a" stroke-width="0.55"/>
<circle cx="398.7" cy="296.7" r="2.35" fill="#83a4c9" stroke="#52739a" stroke-width="0.55"/>
<circle cx="403.8" cy="296.7" r="2.35" fill="#83a4c9" stroke="#52739a" stroke-width="0.55"/>
<circle cx="399.9" cy="299" r="2.35" fill="#83a4c9" stroke="#52739a" stroke-width="0.55"/>
<path d="M288.7,186.5 V321.4 H459.2" fill="none" stroke="#3d3d3d" stroke-width="1.4"/>
<line x1="288.7" y1="187.3" x2="291" y2="187.3" stroke="#3d3d3d" stroke-width="1"/>
<text x="276.66" y="190.4" font-size="8.9" textLength="4.95" lengthAdjust="spacingAndGlyphs" fill="#2e2e2e" >1</text>
<line x1="288.7" y1="209.7" x2="291" y2="209.7" stroke="#3d3d3d" stroke-width="1"/>
<text x="271.79" y="212.8" font-size="8.9" textLength="12.37" lengthAdjust="spacingAndGlyphs" fill="#2e2e2e" >0.8</text>
<line x1="288.7" y1="232.1" x2="291" y2="232.1" stroke="#3d3d3d" stroke-width="1"/>
<text x="271.79" y="235.2" font-size="8.9" textLength="12.37" lengthAdjust="spacingAndGlyphs" fill="#2e2e2e" >0.6</text>
<line x1="288.7" y1="254.5" x2="291" y2="254.5" stroke="#3d3d3d" stroke-width="1"/>
<text x="271.7" y="257.6" font-size="8.9" textLength="12.37" lengthAdjust="spacingAndGlyphs" fill="#2e2e2e" >0.4</text>
<line x1="288.7" y1="276.8" x2="291" y2="276.8" stroke="#3d3d3d" stroke-width="1"/>
<text x="271.87" y="279.9" font-size="8.9" textLength="12.37" lengthAdjust="spacingAndGlyphs" fill="#2e2e2e" >0.2</text>
<line x1="288.7" y1="299.2" x2="291" y2="299.2" stroke="#3d3d3d" stroke-width="1"/>
<text x="276.37" y="302.3" font-size="8.9" textLength="4.95" lengthAdjust="spacingAndGlyphs" fill="#2e2e2e" >0</text>
<line x1="288.7" y1="321.0" x2="291" y2="321.0" stroke="#3d3d3d" stroke-width="1"/>
<text x="268.64" y="324.1" font-size="8.9" textLength="15.34" lengthAdjust="spacingAndGlyphs" fill="#2e2e2e" >-0.2</text>
<line x1="346.1" y1="321.4" x2="346.1" y2="319.59999999999997" stroke="#3d3d3d" stroke-width="1"/>
<line x1="400.9" y1="321.4" x2="400.9" y2="319.59999999999997" stroke="#3d3d3d" stroke-width="1"/>
<text x="315.5" y="334.6" font-size="8.8" textLength="56.5" lengthAdjust="spacingAndGlyphs" fill="#2e2e2e" >A &amp; B/Revisit-A</text>
<text x="381.8" y="334.6" font-size="8.8" textLength="54.83" lengthAdjust="spacingAndGlyphs" fill="#2e2e2e" >A &amp; Reverse-A</text>
<text transform="translate(265.2,262.2) rotate(-90)" x="-0.43" y="0" font-size="8.4" textLength="16.8" lengthAdjust="spacingAndGlyphs" fill="#2e2e2e">Corr</text>
<line x1="344.3" y1="197.5" x2="399.2" y2="197.5" stroke="#0a0a0a" stroke-width="1.6"/>
<text x="371.77" y="200.6" font-size="14" textLength="5.84" lengthAdjust="spacingAndGlyphs" fill="#1a1a1a" >*</text>
<text x="379.09" y="200.6" font-size="14" textLength="5.51" lengthAdjust="spacingAndGlyphs" fill="#1a1a1a" >*</text>
<path d="M496.3,187.6 V319.0 H666.4" fill="none" stroke="#3d3d3d" stroke-width="1.4"/>
<line x1="496.3" y1="188.5" x2="498.6" y2="188.5" stroke="#3d3d3d" stroke-width="1"/>
<text x="483.13" y="192.8" font-size="8.9" textLength="12.37" lengthAdjust="spacingAndGlyphs" fill="#2e2e2e" >0.9</text>
<line x1="496.3" y1="204.4" x2="498.6" y2="204.4" stroke="#3d3d3d" stroke-width="1"/>
<text x="483.09" y="209.5" font-size="8.9" textLength="12.37" lengthAdjust="spacingAndGlyphs" fill="#2e2e2e" >0.8</text>
<line x1="496.3" y1="220.7" x2="498.6" y2="220.7" stroke="#3d3d3d" stroke-width="1"/>
<text x="483.17" y="225.6" font-size="8.9" textLength="12.37" lengthAdjust="spacingAndGlyphs" fill="#2e2e2e" >0.7</text>
<line x1="496.3" y1="236.5" x2="498.6" y2="236.5" stroke="#3d3d3d" stroke-width="1"/>
<text x="483.09" y="240.8" font-size="8.9" textLength="12.37" lengthAdjust="spacingAndGlyphs" fill="#2e2e2e" >0.6</text>
<line x1="496.3" y1="253.1" x2="498.6" y2="253.1" stroke="#3d3d3d" stroke-width="1"/>
<text x="483.09" y="257.4" font-size="8.9" textLength="12.37" lengthAdjust="spacingAndGlyphs" fill="#2e2e2e" >0.5</text>
<line x1="496.3" y1="269.0" x2="498.6" y2="269.0" stroke="#3d3d3d" stroke-width="1"/>
<text x="483" y="273.5" font-size="8.9" textLength="12.37" lengthAdjust="spacingAndGlyphs" fill="#2e2e2e" >0.4</text>
<line x1="496.3" y1="286.8" x2="498.6" y2="286.8" stroke="#3d3d3d" stroke-width="1"/>
<text x="483.09" y="290.3" font-size="8.9" textLength="12.37" lengthAdjust="spacingAndGlyphs" fill="#2e2e2e" >0.3</text>
<line x1="496.3" y1="302.8" x2="498.6" y2="302.8" stroke="#3d3d3d" stroke-width="1"/>
<text x="483.17" y="308" font-size="8.9" textLength="12.37" lengthAdjust="spacingAndGlyphs" fill="#2e2e2e" >0.2</text>
<line x1="496.3" y1="319.0" x2="498.6" y2="319.0" stroke="#3d3d3d" stroke-width="1"/>
<text x="483.13" y="323.6" font-size="8.9" textLength="12.37" lengthAdjust="spacingAndGlyphs" fill="#2e2e2e" >0.1</text>
<line x1="497" y1="319.0" x2="497" y2="316.8" stroke="#3d3d3d" stroke-width="1"/>
<text x="495.61" y="330.2" font-size="8.9" textLength="4.95" lengthAdjust="spacingAndGlyphs" fill="#2e2e2e" >0</text>
<line x1="525.2" y1="319.0" x2="525.2" y2="316.8" stroke="#3d3d3d" stroke-width="1"/>
<text x="520.34" y="330.2" font-size="8.9" textLength="9.9" lengthAdjust="spacingAndGlyphs" fill="#2e2e2e" >50</text>
<line x1="553.4" y1="319.0" x2="553.4" y2="316.8" stroke="#3d3d3d" stroke-width="1"/>
<text x="545.41" y="330.2" font-size="8.9" textLength="14.85" lengthAdjust="spacingAndGlyphs" fill="#2e2e2e" >100</text>
<line x1="581.6" y1="319.0" x2="581.6" y2="316.8" stroke="#3d3d3d" stroke-width="1"/>
<text x="574.01" y="330.2" font-size="8.9" textLength="14.85" lengthAdjust="spacingAndGlyphs" fill="#2e2e2e" >150</text>
<line x1="609.8" y1="319.0" x2="609.8" y2="316.8" stroke="#3d3d3d" stroke-width="1"/>
<text x="602.42" y="330.2" font-size="8.9" textLength="14.85" lengthAdjust="spacingAndGlyphs" fill="#2e2e2e" >200</text>
<line x1="638.0" y1="319.0" x2="638.0" y2="316.8" stroke="#3d3d3d" stroke-width="1"/>
<text x="630.22" y="330.2" font-size="8.9" textLength="14.85" lengthAdjust="spacingAndGlyphs" fill="#2e2e2e" >250</text>
<line x1="666.2" y1="319.0" x2="666.2" y2="316.8" stroke="#3d3d3d" stroke-width="1"/>
<text x="658.57" y="330.2" font-size="8.9" textLength="14.85" lengthAdjust="spacingAndGlyphs" fill="#2e2e2e" >300</text>
<text x="574.32" y="340.6" font-size="8.5" textLength="21.51" lengthAdjust="spacingAndGlyphs" fill="#2e2e2e" >Trials</text>
<text transform="translate(474.4,265.4) rotate(-90)" x="-0.39" y="0" font-size="8.4" textLength="15.04" lengthAdjust="spacingAndGlyphs" fill="#2e2e2e">Corr</text>
<rect x="505.7" y="285.9" width="49.900000000000034" height="24.600000000000023" fill="#fff" stroke="#6e6e6e" stroke-width="0.8"/>
<text x="508.13" y="296" font-size="8.6" textLength="42.96" lengthAdjust="spacingAndGlyphs" fill="#2e2e2e" xml:space="preserve">P  = 0.0370</text>
<text x="508.11" y="305.8" font-size="8.6" textLength="45.26" lengthAdjust="spacingAndGlyphs" fill="#2e2e2e" xml:space="preserve">R² = 0.4853</text>
<line x1="598.3" y1="196.4" x2="612" y2="196.4" stroke="#bd6c71" stroke-width="2"/>
<text x="615.3" y="198.4" font-size="6.6" textLength="18.48" lengthAdjust="spacingAndGlyphs" fill="#2e2e2e" >A &amp; B</text>
<line x1="598.3" y1="206.9" x2="612" y2="206.9" stroke="#2d699b" stroke-width="2"/>
<text x="615.3" y="208.9" font-size="6.6" textLength="38.7" lengthAdjust="spacingAndGlyphs" fill="#2e2e2e" >A &amp; Revisit A</text>
<line x1="598.3" y1="217.6" x2="612" y2="217.6" stroke="#a98bcf" stroke-width="2"/>
<text x="615.3" y="219.6" font-size="6.6" textLength="44.52" lengthAdjust="spacingAndGlyphs" fill="#2e2e2e" >A &amp; Reverse A</text>
<line x1="545.9" y1="194.3" x2="545.9" y2="244.7" stroke="#bd6c71" stroke-width="1.5"/>
<line x1="535.5" y1="219.8" x2="555.8" y2="219.8" stroke="#bd6c71" stroke-width="1.5"/>
<line x1="543.6999999999999" y1="194.3" x2="548.1" y2="194.3" stroke="#bd6c71" stroke-width="1.3"/>
<line x1="543.6999999999999" y1="244.7" x2="548.1" y2="244.7" stroke="#bd6c71" stroke-width="1.3"/>
<line x1="535.5" y1="217.60000000000002" x2="535.5" y2="222.0" stroke="#bd6c71" stroke-width="1.3"/>
<line x1="555.8" y1="217.60000000000002" x2="555.8" y2="222.0" stroke="#bd6c71" stroke-width="1.3"/>
<circle cx="545.9" cy="219.8" r="2.9" fill="#bd6c71"/>
<line x1="517" y1="200.8" x2="517" y2="241.7" stroke="#2d699b" stroke-width="1.5"/>
<line x1="511.6" y1="221.2" x2="522.3" y2="221.2" stroke="#2d699b" stroke-width="1.5"/>
<line x1="514.8" y1="200.8" x2="519.2" y2="200.8" stroke="#2d699b" stroke-width="1.3"/>
<line x1="514.8" y1="241.7" x2="519.2" y2="241.7" stroke="#2d699b" stroke-width="1.3"/>
<line x1="511.6" y1="219.0" x2="511.6" y2="223.39999999999998" stroke="#2d699b" stroke-width="1.3"/>
<line x1="522.3" y1="219.0" x2="522.3" y2="223.39999999999998" stroke="#2d699b" stroke-width="1.3"/>
<circle cx="517" cy="221.2" r="2.9" fill="#2d699b"/>
<line x1="589.5" y1="235" x2="589.5" y2="303.9" stroke="#a98bcf" stroke-width="1.5"/>
<line x1="541.5" y1="269.7" x2="637.5" y2="269.7" stroke="#a98bcf" stroke-width="1.5"/>
<line x1="587.3" y1="235" x2="591.7" y2="235" stroke="#a98bcf" stroke-width="1.3"/>
<line x1="587.3" y1="303.9" x2="591.7" y2="303.9" stroke="#a98bcf" stroke-width="1.3"/>
<line x1="541.5" y1="267.5" x2="541.5" y2="271.9" stroke="#a98bcf" stroke-width="1.3"/>
<line x1="637.5" y1="267.5" x2="637.5" y2="271.9" stroke="#a98bcf" stroke-width="1.3"/>
<circle cx="589.5" cy="269.7" r="2.9" fill="#a98bcf"/>
<circle cx="539.6" cy="203.1" r="2.2" fill="#bd6c71"/>
<circle cx="559.7" cy="200.3" r="2.2" fill="#bd6c71"/>
<circle cx="537.8" cy="255.6" r="2.2" fill="#bd6c71"/>
<circle cx="510" cy="202" r="2.2" fill="#2d699b"/>
<circle cx="518.6" cy="211.9" r="2.2" fill="#2d699b"/>
<circle cx="522" cy="249.4" r="2.2" fill="#2d699b"/>
<circle cx="534.3" cy="257.5" r="2.2" fill="#a98bcf"/>
<circle cx="581.7" cy="234.5" r="2.2" fill="#a98bcf"/>
<circle cx="651.4" cy="315.4" r="2.2" fill="#a98bcf"/>
<line x1="510.7" y1="212.4" x2="651.1" y2="297.5" stroke="#000" stroke-width="2.3"/>
</svg>
</body></html>
